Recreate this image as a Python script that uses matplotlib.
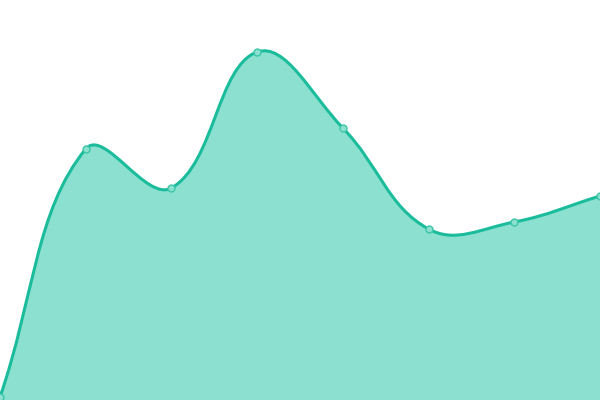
import numpy as np
import matplotlib
matplotlib.use("Agg")
import matplotlib.pyplot as plt
from matplotlib.path import Path
from matplotlib.patches import PathPatch

# values (y axis 0..400)
labels = ["1", "2", "3", "4", "5", "6", "7", "8"]
values = [3, 251, 212, 348, 272, 171, 178, 204]

line_color = "#1abc9c"
fill_color = "#8be0cf"
tension = 0.4

n = len(values)
xs = np.linspace(0, 600, n)
ys = np.array(values, dtype=float)

# bezier control points, same rule as a tension spline
cps = []
for i in range(n):
    px, py = (xs[i - 1], ys[i - 1]) if i > 0 else (xs[i], ys[i])
    nx, ny = (xs[i + 1], ys[i + 1]) if i < n - 1 else (xs[i], ys[i])
    cx, cy = xs[i], ys[i]
    d01 = np.hypot(cx - px, cy - py)
    d12 = np.hypot(nx - cx, ny - cy)
    tot = d01 + d12 if d01 + d12 > 0 else 1
    fa = tension * d01 / tot
    fb = tension * d12 / tot
    prev_cp = (cx - fa * (nx - px), min(max(cy - fa * (ny - py), 0), 400))
    next_cp = (cx + fb * (nx - px), min(max(cy + fb * (ny - py), 0), 400))
    cps.append((prev_cp, next_cp))

verts = [(xs[0], ys[0])]
codes = [Path.MOVETO]
for i in range(1, n):
    verts += [cps[i - 1][1], cps[i][0], (xs[i], ys[i])]
    codes += [Path.CURVE4] * 3

fill_verts = verts + [(xs[-1], 0), (xs[0], 0), (xs[0], ys[0])]
fill_codes = codes + [Path.LINETO, Path.LINETO, Path.CLOSEPOLY]

fig = plt.figure(figsize=(6, 4), dpi=100)
ax = fig.add_axes([0, 0, 1, 1])
ax.add_patch(PathPatch(Path(fill_verts, fill_codes), facecolor=fill_color,
                       edgecolor="none", zorder=1))
ax.add_patch(PathPatch(Path(verts, codes), facecolor="none",
                       edgecolor=line_color, lw=2.2, zorder=2))
ax.plot(xs, ys, "o", ms=5, markerfacecolor=fill_color,
        markeredgecolor="#3cc6a8", markeredgewidth=1, zorder=3, clip_on=False)
ax.set_xlim(0, 600)
ax.set_ylim(0, 400)
ax.axis("off")
fig.savefig("out.png", dpi=100)
